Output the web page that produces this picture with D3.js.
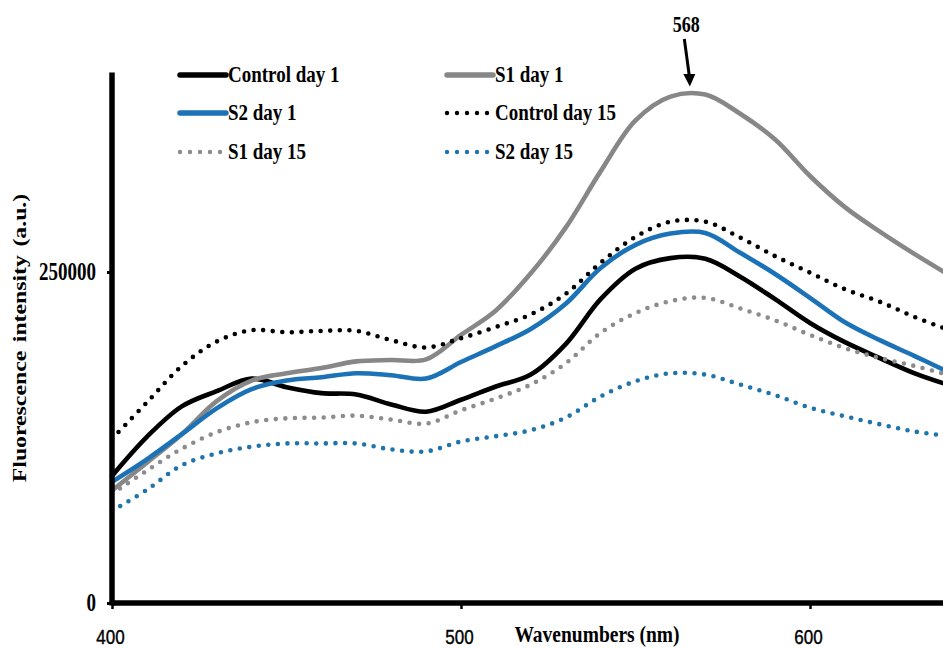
<!DOCTYPE html>
<html>
<head>
<meta charset="utf-8">
<script src="https://cdn.jsdelivr.net/npm/d3@7/dist/d3.min.js"></script>
<style>
  html, body { margin: 0; padding: 0; background: #fff; overflow: hidden; }
  svg { display: block; }
  text { font-family: "Liberation Serif", "Times New Roman", serif; font-weight: bold; fill: #000; }
</style>
</head>
<body>
<svg id="chart" width="943" height="648"></svg>
<script>
// Emission wavelengths (nm)
const wavelengths = [400, 410, 420, 430, 440, 450, 460, 470, 480, 490, 500, 510, 520,
                     530, 540, 550, 560, 570, 580, 590, 600, 610, 620, 630, 640];

// Fluorescence intensity (a.u.) for each sample
const controlDay1 = [96000, 125500, 148500, 160000, 169500, 163000, 158500, 157500, 150000, 144500, 153500, 163500, 172500,
                     195500, 229500, 252500, 260500, 260000, 246500, 229500, 211500, 197000, 185000, 173500, 164500];
const s1Day1      = [85000, 106000, 127500, 152500, 168000, 173500, 177500, 182500, 183500, 184000, 202500, 221000, 249000,
                     283500, 326000, 364500, 382500, 384000, 369500, 350000, 322500, 299000, 280500, 263500, 247500];
const s2Day1      = [91500, 108500, 127500, 147000, 161500, 168000, 170500, 173500, 172000, 169500, 182000, 194000, 207000,
                     226000, 253000, 270500, 279000, 279500, 264500, 248500, 230500, 212000, 198500, 186500, 174000];
const controlDay15 = [124000, 151500, 179000, 197500, 206000, 204500, 205500, 205500, 198500, 193000, 200000, 208500, 218000,
                      233500, 257000, 276500, 288000, 288000, 276000, 262000, 249500, 237000, 227500, 216000, 206000];
const s1Day15     = [82500, 100000, 116500, 129000, 136500, 139500, 140000, 141500, 138500, 135500, 145500, 154500, 165000,
                     181000, 204000, 219000, 228000, 230500, 222500, 213500, 202500, 192500, 185000, 179000, 172000];
const s2Day15     = [69500, 85500, 104000, 113000, 118000, 120500, 120500, 120500, 116000, 114500, 122000, 126000, 130500,
                     140000, 156000, 167500, 173500, 172500, 165000, 157000, 147500, 141000, 135000, 129500, 126000];

const seriesNames  = ["Control day 1", "S1 day 1", "S2 day 1", "Control day 15", "S1 day 15", "S2 day 15"];
const seriesValues = [controlDay1, s1Day1, s2Day1, controlDay15, s1Day15, s2Day15];
const seriesColors = ["#000000", "#878787", "#1b72b6", "#000000", "#8c8c8c", "#1f74ab"];
const seriesDotted = [false, false, false, true, true, true];

// Axis ticks
const xTicks = [400, 500, 600];
const yTicks = [0, 250000];

// Peak annotation
const peakLabel = "568";
const peakWavelength = 568;
const peakIntensity = 384000;

const svg = d3.select("#chart");

const x = d3.scaleLinear().domain([400, 650]).range([112, 984.5]);
const y = d3.scaleLinear().domain([0, 400000]).range([603, 73.4]);

const line = d3.line()
  .x((d, i) => x(wavelengths[i]))
  .y(d => y(d))
  .curve(d3.curveCatmullRom.alpha(0.5));

// Data lines
const plot = svg.append("g");
seriesValues.forEach((vals, k) => {
  plot.append("path")
    .datum(vals)
    .attr("d", line)
    .attr("fill", "none")
    .attr("stroke", seriesColors[k])
    .attr("stroke-width", 4.6)
    .attr("stroke-linecap", "round")
    .attr("stroke-linejoin", "round")
    .attr("stroke-dasharray", seriesDotted[k] ? "0 9.6" : null);
});

// Axes
const xAxis = d3.axisBottom(x).tickValues(xTicks).tickSize(6).tickFormat(d3.format("d"));
const gx = svg.append("g").attr("transform", `translate(0,${y(0)})`).call(xAxis);
gx.select(".domain").attr("d", `M${x(400)},0H${x(650)}`).attr("stroke", "#000").attr("stroke-width", 5.5);
gx.selectAll(".tick line").attr("stroke", "#000").attr("stroke-width", 2.5);
gx.selectAll(".tick text")
  .attr("y", 0).attr("dy", 0)
  .style("font-family", "'Liberation Sans', Arial, sans-serif")
  .style("font-weight", "normal")
  .style("font-size", "20px")
  .style("stroke", "#000")
  .style("stroke-width", "0.4px")
  .attr("transform", "translate(-2,41) scale(0.85,1)");

const yAxis = d3.axisLeft(y).tickValues(yTicks).tickSize(5).tickFormat(d3.format("d"));
const gy = svg.append("g").attr("transform", `translate(${x(400)},0)`).call(yAxis);
gy.select(".domain").attr("d", `M0,${y(0) + 2.5}V${y(400000) - 1}`).attr("stroke", "#000").attr("stroke-width", 5.5);
gy.selectAll(".tick line").attr("stroke", "#000").attr("stroke-width", 3);
gy.selectAll(".tick text")
  .attr("x", 0).attr("dy", 0)
  .style("font-size", "19px")
  .style("font-weight", "bold")
  .attr("text-anchor", "end")
  .attr("transform", "translate(-16,7) scale(1,1.3)");

// Axis titles
svg.append("text")
  .attr("transform", "translate(26,338) rotate(-90) scale(1.32,1)")
  .attr("text-anchor", "middle")
  .style("font-size", "18px")
  .style("word-spacing", "2px")
  .text("Fluorescence intensity (a.u.)");

svg.append("text")
  .attr("transform", "translate(597,642) scale(1,1.18)")
  .attr("text-anchor", "middle")
  .style("font-size", "19.5px")
  .text("Wavenumbers (nm)");

// Peak arrow
const ax = x(peakWavelength) - 9;
svg.append("text")
  .attr("transform", `translate(${ax - 3},32) scale(1,1.25)`)
  .attr("text-anchor", "middle")
  .style("font-size", "18px")
  .text(peakLabel);
svg.append("line")
  .attr("x1", ax - 5).attr("x2", ax)
  .attr("y1", 39).attr("y2", 76)
  .attr("stroke", "#000").attr("stroke-width", 3);
svg.append("path")
  .attr("d", `M${ax - 6},74L${ax + 6},74L${ax + 0.5},${y(peakIntensity) - 8}Z`)
  .attr("fill", "#000");

// Legend, two columns by three rows
const legendCols = [180, 447];
const legendRows = [75, 113, 152];
seriesNames.forEach((name, k) => {
  const lx = legendCols[k % 2];
  const ly = legendRows[Math.floor(k / 2)];
  const g = svg.append("g").attr("transform", `translate(${lx},${ly})`);
  g.append("line")
    .attr("x1", 0).attr("x2", 46)
    .attr("y1", 0).attr("y2", 0)
    .attr("stroke", seriesColors[k])
    .attr("stroke-width", seriesDotted[k] ? 4.4 : 5.5)
    .attr("stroke-linecap", "round")
    .attr("stroke-dasharray", seriesDotted[k] ? "0 10" : null);
  g.append("text")
    .attr("transform", "translate(48,7) scale(1,1.2)")
    .style("font-size", "19px")
    .text(name);
});
</script>
</body>
</html>
